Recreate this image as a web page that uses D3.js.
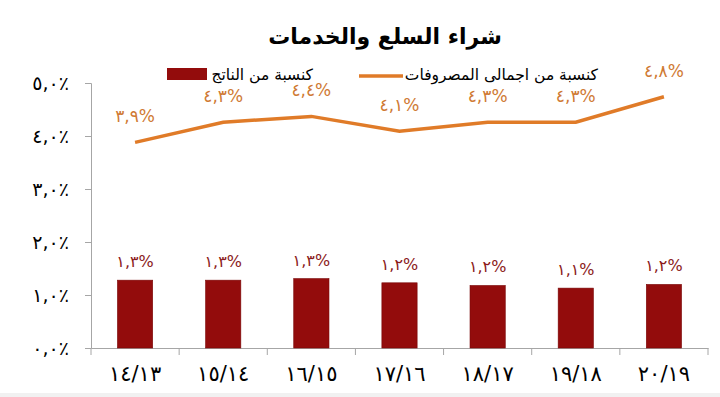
<!DOCTYPE html>
<html>
<head>
<meta charset="utf-8">
<script src="https://cdn.jsdelivr.net/npm/d3@7"></script>
<style>
  body { margin: 0; background: #fff; }
  text { font-family: "DejaVu Sans", sans-serif; }
</style>
</head>
<body>
<div id="chart"></div>
<script>
// chart data
var years = ["١٤/١٣", "١٥/١٤", "١٦/١٥", "١٧/١٦", "١٨/١٧", "١٩/١٨", "٢٠/١٩"];
var gdpShare = [1.28, 1.28, 1.31, 1.23, 1.18, 1.13, 1.20];
var gdpLabels = ["١,٣%", "١,٣%", "١,٣%", "١,٢%", "١,٢%", "١,١%", "١,٢%"];
var spendShare = [3.88, 4.26, 4.37, 4.09, 4.26, 4.26, 4.74];
var spendLabels = ["٣,٩%", "٤,٣%", "٤,٤%", "٤,١%", "٤,٣%", "٤,٣%", "٤,٨%"];
var yTicks = [0, 1, 2, 3, 4, 5];
var yTickLabels = ["٠,٠٪", "١,٠٪", "٢,٠٪", "٣,٠٪", "٤,٠٪", "٥,٠٪"];

var svgWidth = 720;
var svgHeight = 397;

var margin = { top: 83, right: 12, bottom: 49, left: 91 };
var width = 708 - margin.left;
var height = 348 - margin.top;

var svg = d3.select("#chart")
  .append("svg")
  .attr("width", svgWidth)
  .attr("height", svgHeight);

// faint strip at the bottom edge of the picture
svg.append("rect")
  .attr("x", 0).attr("y", 393)
  .attr("width", svgWidth).attr("height", 4)
  .attr("fill", "#f1f1f1");

// title
svg.append("text")
  .attr("x", 385)
  .attr("y", 44)
  .attr("text-anchor", "middle")
  .style("font-size", "22px")
  .style("font-weight", "bold")
  .text("شراء السلع والخدمات");

var chartGroup = svg.append("g")
  .attr("transform", `translate(${margin.left}, ${margin.top})`);

// scales
var xScale = d3.scaleBand()
  .domain(years)
  .range([0, width])
  .paddingInner(0.6)
  .paddingOuter(0.3);

var yScale = d3.scaleLinear()
  .domain([0, 5])
  .range([height, 0]);

// y axis
var yAxis = d3.axisLeft(yScale)
  .tickValues(yTicks)
  .tickSize(6)
  .tickPadding(16)
  .tickFormat((d, i) => yTickLabels[i]);

var yG = chartGroup.append("g").call(yAxis);
yG.select(".domain").attr("stroke", "#a6a6a6");
yG.selectAll(".tick line").attr("stroke", "#a6a6a6");
yG.selectAll(".tick text")
  .style("font-size", "19px")
  .attr("fill", "#000");

// x axis (labels only, ticks drawn at band edges)
var xAxis = d3.axisBottom(xScale).tickSize(0).tickPadding(18);
var xG = chartGroup.append("g")
  .attr("transform", `translate(0, ${height})`)
  .call(xAxis);
xG.select(".domain").attr("stroke", "#a6a6a6");
xG.selectAll(".tick text")
  .style("font-size", "21px")
  .attr("fill", "#000");

var step = xScale.step();
var edges = years.map(d => xScale(d) - step * 0.3).concat([width]);
xG.selectAll(".edge")
  .data(edges)
  .enter()
  .append("line")
  .attr("x1", d => d).attr("x2", d => d)
  .attr("y1", 0).attr("y2", 7)
  .attr("stroke", "#a6a6a6");

// bars
chartGroup.selectAll(".bar")
  .data(gdpShare)
  .enter()
  .append("rect")
  .attr("x", (d, i) => xScale(years[i]))
  .attr("y", d => yScale(d))
  .attr("width", xScale.bandwidth())
  .attr("height", d => height - yScale(d))
  .attr("fill", "#930c0c")
  .attr("stroke", "#7a0808")
  .attr("stroke-width", 0.6);

chartGroup.selectAll(".barLabel")
  .data(gdpShare)
  .enter()
  .append("text")
  .attr("x", (d, i) => xScale(years[i]) + xScale.bandwidth() / 2)
  .attr("y", d => yScale(d) - 13)
  .attr("text-anchor", "middle")
  .style("font-size", "16px")
  .attr("fill", "#8b1a1a")
  .text((d, i) => gdpLabels[i]);

// line
var line = d3.line()
  .x((d, i) => xScale(years[i]) + xScale.bandwidth() / 2)
  .y(d => yScale(d));

chartGroup.append("path")
  .datum(spendShare)
  .attr("d", line)
  .attr("fill", "none")
  .attr("stroke", "#e07b28")
  .attr("stroke-width", 3.5);

chartGroup.selectAll(".lineLabel")
  .data(spendShare)
  .enter()
  .append("text")
  .attr("x", (d, i) => xScale(years[i]) + xScale.bandwidth() / 2)
  .attr("y", d => yScale(d) - 20)
  .attr("text-anchor", "middle")
  .style("font-size", "17px")
  .attr("fill", "#cf7a34")
  .text((d, i) => spendLabels[i]);

// legend
var legend = svg.append("g");
legend.append("rect")
  .attr("x", 167).attr("y", 68)
  .attr("width", 40).attr("height", 12)
  .attr("fill", "#930c0c");
legend.append("text")
  .attr("x", 313).attr("y", 80)
  .attr("text-anchor", "end")
  .style("font-size", "15.5px")
  .text("كنسبة من الناتج");
legend.append("line")
  .attr("x1", 359).attr("x2", 403)
  .attr("y1", 76).attr("y2", 76)
  .attr("stroke", "#e07b28")
  .attr("stroke-width", 3.5);
legend.append("text")
  .attr("x", 598).attr("y", 80)
  .attr("text-anchor", "end")
  .style("font-size", "15.5px")
  .text("كنسبة من اجمالى المصروفات");
</script>
</body>
</html>
